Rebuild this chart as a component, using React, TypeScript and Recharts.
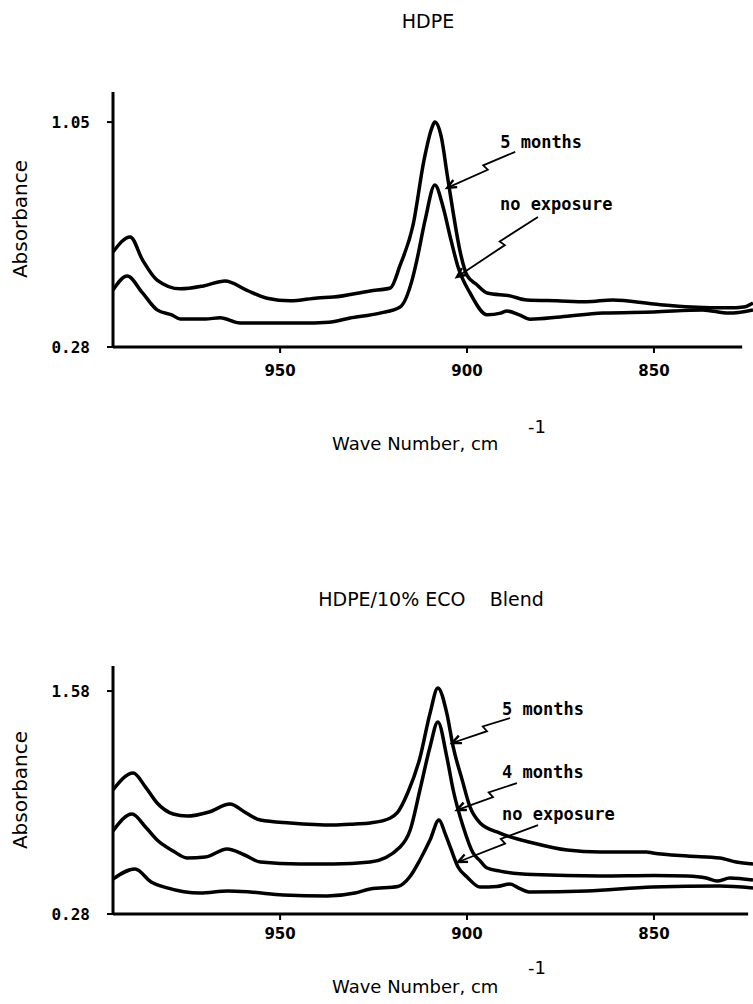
import { LineChart, Line, XAxis, YAxis, ReferenceLine, ReferenceDot } from 'recharts'

// wave number window shared by both spectra (reversed axis)
const WN_MAX = 994.7
const WN_MIN = 823.5
const X_TICKS = [950, 900, 850]

// ---- HDPE ----
const hdpeFiveWn = [994.7, 990.1, 986.8, 982.9, 976.7, 970.5, 964.7, 959, 953.5, 947.3, 940, 935.8, 925.9, 920.5, 917.9, 914.4, 911.5, 909.4, 908.6, 906.9, 905.3, 903.7, 901.9, 900.0, 897.5, 894.6, 888.5, 884, 876, 868, 861, 850, 840, 830, 826, 823.5]
const hdpeFiveAbs = [0.605, 0.657, 0.578, 0.509, 0.479, 0.489, 0.506, 0.475, 0.447, 0.438, 0.448, 0.451, 0.472, 0.482, 0.56, 0.70, 0.92, 1.03, 1.05, 1.0, 0.87, 0.74, 0.61, 0.525, 0.495, 0.465, 0.455, 0.441, 0.438, 0.435, 0.441, 0.427, 0.417, 0.414, 0.417, 0.431]

const hdpeNoneWn = [994.7, 990.9, 986.8, 982.9, 979, 976.7, 970, 966, 960.7, 950, 944.7, 937, 931.3, 923.3, 917.9, 914.7, 913.4, 911.2, 908.6, 906.4, 904.5, 902.4, 899.2, 894.6, 891, 889.3, 886, 883.1, 875, 863.6, 850, 837, 830, 823.5]
const hdpeNoneAbs = [0.475, 0.523, 0.465, 0.407, 0.39, 0.376, 0.376, 0.38, 0.362, 0.362, 0.362, 0.365, 0.379, 0.396, 0.417, 0.509, 0.578, 0.715, 0.835, 0.759, 0.657, 0.554, 0.465, 0.39, 0.396, 0.403, 0.39, 0.375, 0.383, 0.396, 0.40, 0.407, 0.396, 0.407]

const hdpeNotes = ['5 months', 'no exposure']
const hdpeNoteWn = [905.3, 902.7]
const hdpeNoteAbs = [0.825, 0.52]

// ---- HDPE/10% ECO blend ----
const blendFiveWn = [994.7, 989.3, 986, 982.9, 978.6, 974.9, 969, 963.4, 959.5, 955.3, 947.3, 935.8, 930, 925.9, 920.5, 918.7, 915.8, 912.6, 909.9, 907.8, 905.4, 903.7, 901.3, 899.2, 896.5, 891.2, 882.3, 873.2, 864.4, 852, 850.3, 841, 832.4, 828, 823.5]
const blendFiveAbs = [1.003, 1.102, 1.02, 0.927, 0.863, 0.851, 0.875, 0.921, 0.875, 0.828, 0.811, 0.799, 0.805, 0.811, 0.84, 0.869, 0.99, 1.19, 1.45, 1.598, 1.45, 1.254, 1.062, 0.904, 0.811, 0.752, 0.694, 0.653, 0.642, 0.642, 0.636, 0.618, 0.607, 0.583, 0.572]

const blendFourWn = [994.7, 989.6, 986, 982.9, 978.6, 974.9, 970, 964.2, 959.5, 955.3, 944.7, 935.8, 925.9, 917.9, 915.2, 912.6, 909.9, 907.8, 905.4, 903.7, 901.0, 898.4, 896.5, 894.6, 891.2, 882.3, 864.4, 850, 841.1, 836, 833.1, 829.7, 823.5]
const blendFourAbs = [0.764, 0.863, 0.787, 0.711, 0.647, 0.607, 0.612, 0.659, 0.624, 0.583, 0.572, 0.572, 0.583, 0.671, 0.77, 1.003, 1.254, 1.40, 1.195, 1.003, 0.787, 0.636, 0.59, 0.548, 0.53, 0.51, 0.502, 0.505, 0.502, 0.49, 0.472, 0.49, 0.478]

const blendNoneWn = [994.7, 988.8, 984.5, 980.2, 971.4, 964, 958.0, 949.2, 937.4, 930, 925.9, 918.5, 915.2, 912.6, 909.9, 907.5, 905.9, 904.5, 902.4, 900.0, 896.5, 892, 888.5, 886, 883.1, 867.9, 850.3, 832.4, 823.5]
const blendNoneAbs = [0.484, 0.542, 0.467, 0.432, 0.402, 0.414, 0.408, 0.391, 0.385, 0.402, 0.426, 0.44, 0.5, 0.595, 0.711, 0.828, 0.752, 0.671, 0.554, 0.496, 0.437, 0.44, 0.455, 0.43, 0.408, 0.414, 0.437, 0.443, 0.432]

const blendNotes = ['5 months', '4 months', 'no exposure']
const blendNoteWn = [904.0, 902.7, 902.4]
const blendNoteAbs = [1.277, 0.886, 0.583]

const pts = (wn: number[], ab: number[]) => wn.map((w, i) => ({ wn: w, a: ab[i] }))

// pixel offsets of label / leader start, relative to the arrow tip
const hdpeNoteLayout = [
  { dx: 53, dy: -40, sx: 68, sy: -36 },
  { dx: 43, dy: -67, sx: 81, sy: -60 },
]
const blendNoteLayout = [
  { dx: 50, dy: -28, sx: 58, sy: -25 },
  { dx: 45, dy: -32, sx: 60, sy: -27 },
  { dx: 44, dy: -42, sx: 80, sy: -37 },
]

const monoBold = { fontFamily: 'DejaVu Sans Mono', fontWeight: 'bold' as const }

// leader with the little jog in the middle, open arrowhead at the curve
function Callout({ cx, cy, text, dx, dy, sx, sy }: any) {
  const x0 = cx + sx
  const y0 = cy + sy
  const len = Math.hypot(cx - x0, cy - y0)
  const ux = (cx - x0) / len
  const uy = (cy - y0) / len
  const nx = -uy
  const ny = ux
  const mx = x0 + (cx - x0) * 0.45
  const my = y0 + (cy - y0) * 0.45
  const ax = mx + nx * 3
  const ay = my + ny * 3
  const bx = mx - nx * 3 - ux * 2
  const by = my - ny * 3 - uy * 2
  const ang = Math.atan2(uy, ux)
  const h = 10
  const a1 = ang + Math.PI - 0.42
  const a2 = ang + Math.PI + 0.42
  return (
    <g>
      <polyline points={`${x0},${y0} ${ax},${ay} ${bx},${by} ${cx},${cy}`} fill="none" stroke="#000" strokeWidth={1.8} />
      <path
        d={`M${cx + h * Math.cos(a1)},${cy + h * Math.sin(a1)} L${cx},${cy} L${cx + h * Math.cos(a2)},${cy + h * Math.sin(a2)}`}
        fill="none"
        stroke="#000"
        strokeWidth={2.4}
      />
      <text x={cx + dx} y={cy + dy} fontSize={17} fill="#000" style={monoBold}>
        {text}
      </text>
    </g>
  )
}

interface SpectrumProps {
  height: number
  top: number
  bottom: number
  yMax: number
  yTicks: number[]
  axisEnd: number
  tickGap: number
  series: { wn: number; a: number }[][]
  notes: string[]
  noteWn: number[]
  noteAbs: number[]
  layout: { dx: number; dy: number; sx: number; sy: number }[]
}

function Spectrum({ height, top, bottom, yMax, yTicks, axisEnd, tickGap, series, notes, noteWn, noteAbs, layout }: SpectrumProps) {
  return (
    <LineChart width={753} height={height} margin={{ top, right: 0, left: 0, bottom }}>
      <XAxis
        type="number"
        dataKey="wn"
        domain={[WN_MIN, WN_MAX]}
        reversed
        allowDataOverflow
        ticks={X_TICKS}
        interval={0}
        height={40}
        axisLine={false}
        tickLine={{ stroke: '#000', strokeWidth: 2 }}
        tickSize={6}
        tickMargin={tickGap}
        tick={{ fill: '#000', fontSize: 15, fontFamily: 'DejaVu Sans', fontWeight: 'bold' }}
      />
      <YAxis
        type="number"
        dataKey="a"
        domain={[0.28, yMax]}
        allowDataOverflow
        ticks={yTicks}
        interval={0}
        width={113}
        axisLine={{ stroke: '#000', strokeWidth: 3 }}
        tickLine={{ stroke: '#000', strokeWidth: 2 }}
        tickSize={6}
        tickMargin={17}
        tickFormatter={(v: number) => v.toFixed(2)}
        tick={{ fill: '#000', fontSize: 16, ...monoBold }}
      />
      <ReferenceLine
        segment={[{ x: WN_MAX, y: 0.28 }, { x: axisEnd, y: 0.28 }]}
        stroke="#000"
        strokeWidth={3}
        ifOverflow="visible"
      />
      {series.map((d, i) => (
        <Line
          key={i}
          data={d}
          dataKey="a"
          type="monotone"
          stroke="#000"
          strokeWidth={3.5}
          dot={false}
          activeDot={false}
          isAnimationActive={false}
        />
      ))}
      {notes.map((t, i) => (
        <ReferenceDot
          key={t + i}
          x={noteWn[i]}
          y={noteAbs[i]}
          r={0}
          ifOverflow="visible"
          shape={(p: any) => <Callout cx={p.cx} cy={p.cy} text={t} {...layout[i]} />}
        />
      ))}
    </LineChart>
  )
}

const sans = 'DejaVu Sans'

export default function App() {
  return (
    <div style={{ position: 'absolute', left: 0, top: 0, width: 753, height: 1004, background: '#fff', overflow: 'hidden' }}>
      <div style={{ position: 'absolute', left: 0, top: 0 }}>
        <Spectrum
          height={400}
          top={92}
          bottom={13}
          yMax={1.153}
          yTicks={[0.28, 1.05]}
          axisEnd={826.4}
          tickGap={12}
          series={[pts(hdpeFiveWn, hdpeFiveAbs), pts(hdpeNoneWn, hdpeNoneAbs)]}
          notes={hdpeNotes}
          noteWn={hdpeNoteWn}
          noteAbs={hdpeNoteAbs}
          layout={hdpeNoteLayout}
        />
      </div>
      <div style={{ position: 'absolute', left: 0, top: 600 }}>
        <Spectrum
          height={380}
          top={66}
          bottom={26}
          yMax={1.726}
          yTicks={[0.28, 1.58]}
          axisEnd={824.8}
          tickGap={8}
          series={[pts(blendFiveWn, blendFiveAbs), pts(blendFourWn, blendFourAbs), pts(blendNoneWn, blendNoneAbs)]}
          notes={blendNotes}
          noteWn={blendNoteWn}
          noteAbs={blendNoteAbs}
          layout={blendNoteLayout}
        />
      </div>
      <svg width={753} height={1004} style={{ position: 'absolute', left: 0, top: 0, pointerEvents: 'none' }}>
        <g fontFamily={sans} fill="#000">
          <text x={428} y={28} fontSize={19} textAnchor="middle">HDPE</text>
          <text x={431} y={606} fontSize={19} textAnchor="middle" style={{ whiteSpace: 'pre' }}>
            {'HDPE/10% ECO    Blend'}
          </text>
          <text x={20} y={219} fontSize={20} textAnchor="middle" dominantBaseline="central" transform="rotate(-90 20 219)">
            Absorbance
          </text>
          <text x={20} y={790} fontSize={20} textAnchor="middle" dominantBaseline="central" transform="rotate(-90 20 790)">
            Absorbance
          </text>
          <text x={332} y={450} fontSize={18}>Wave Number, cm</text>
          <text x={528} y={433} fontSize={18}>-1</text>
          <text x={332} y={993} fontSize={18}>Wave Number, cm</text>
          <text x={528} y={974} fontSize={18}>-1</text>
        </g>
      </svg>
    </div>
  )
}
